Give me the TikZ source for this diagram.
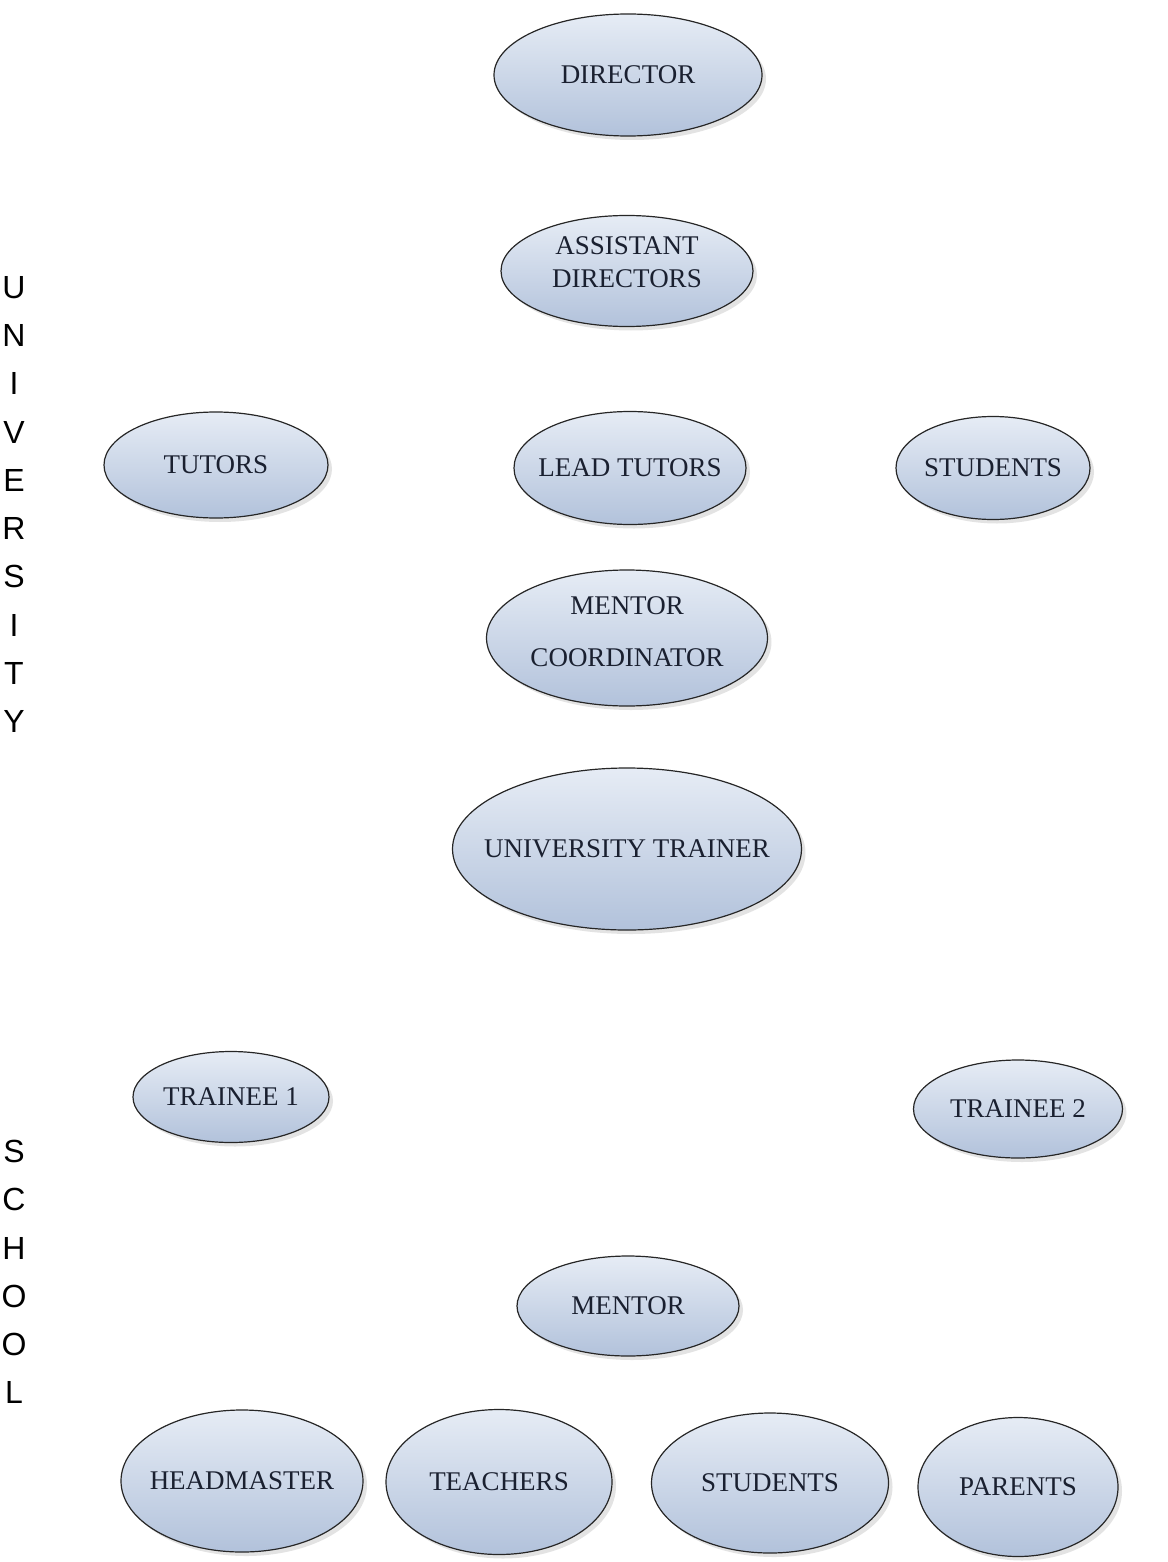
\documentclass[tikz,border=0pt]{standalone}
\usepackage{fontspec}
\setmainfont{Liberation Serif}
\newfontfamily\sidefont{Liberation Sans}
\usepackage{tikz}
\usetikzlibrary{shapes.geometric}
\usetikzlibrary{shadows}
\definecolor{bubbletop}{HTML}{E6ECF5}
\definecolor{bubblebot}{HTML}{B2C2DB}
\definecolor{bubbletext}{HTML}{1A2030}
\newcommand{\nowidth}[1]{\makebox[0pt]{#1}}
\tikzset{bubble/.style={ellipse, draw=black!85, line width=1.2pt, inner sep=0pt,
      top color=bubbletop, bottom color=bubblebot,
      drop shadow={shadow xshift=4pt, shadow yshift=-4pt, opacity=0.18, fill=black!60},
      align=center, text=bubbletext, font=\fontsize{27}{33}\selectfont}}
\tikzset{sidelabel/.style={inner sep=0pt, align=center, font=\sidefont\fontsize{32}{48.3}\selectfont}}

\begin{document}
\begin{tikzpicture}[x=1pt,y=-1pt]
		\useasboundingbox (0,0) rectangle (1167,1562);
		\node[sidelabel] (univ) at (14,504.5) {U\\N\\I\\V\\E\\R\\S\\I\\T\\Y};
		\node[sidelabel] (school) at (14,1272) {S\\C\\H\\O\\O\\L};
		\node[bubble, minimum width=268pt, minimum height=122pt] (director) at (628,75) {\nowidth{DIRECTOR}};
		\node[bubble, minimum width=252pt, minimum height=111pt, text depth=18pt] (assist) at (627,271) {ASSISTANT\\DIRECTORS};
		\node[bubble, minimum width=224pt, minimum height=106pt] (tutors) at (216,465) {\nowidth{TUTORS}};
		\node[bubble, minimum width=232pt, minimum height=113pt] (lead) at (630,468) {\nowidth{LEAD TUTORS}};
		\node[bubble, minimum width=194pt, minimum height=103pt] (ustudents) at (993,468) {\nowidth{STUDENTS}};
		\node[bubble, minimum width=281pt, minimum height=136pt, text depth=12pt] (coord) at (627,638) {MENTOR\\[19pt]COORDINATOR};
		\node[bubble, minimum width=349pt, minimum height=162pt] (trainer) at (627,849) {\nowidth{UNIVERSITY TRAINER}};
		\node[bubble, minimum width=196pt, minimum height=91pt] (trainee1) at (231,1097) {\nowidth{TRAINEE 1}};
		\node[bubble, minimum width=209pt, minimum height=98pt] (trainee2) at (1018,1109) {\nowidth{TRAINEE 2}};
		\node[bubble, minimum width=222pt, minimum height=100pt] (mentor) at (628,1306) {\nowidth{MENTOR}};
		\node[bubble, minimum width=242pt, minimum height=142pt] (head) at (242,1481) {\nowidth{HEADMASTER}};
		\node[bubble, minimum width=226pt, minimum height=145pt] (teachers) at (499,1482) {\nowidth{TEACHERS}};
		\node[bubble, minimum width=237pt, minimum height=140pt] (sstudents) at (770,1483) {\nowidth{STUDENTS}};
		\node[bubble, minimum width=200pt, minimum height=139pt] (parents) at (1018,1487) {\nowidth{PARENTS}};
		\end{tikzpicture}
\end{document}
